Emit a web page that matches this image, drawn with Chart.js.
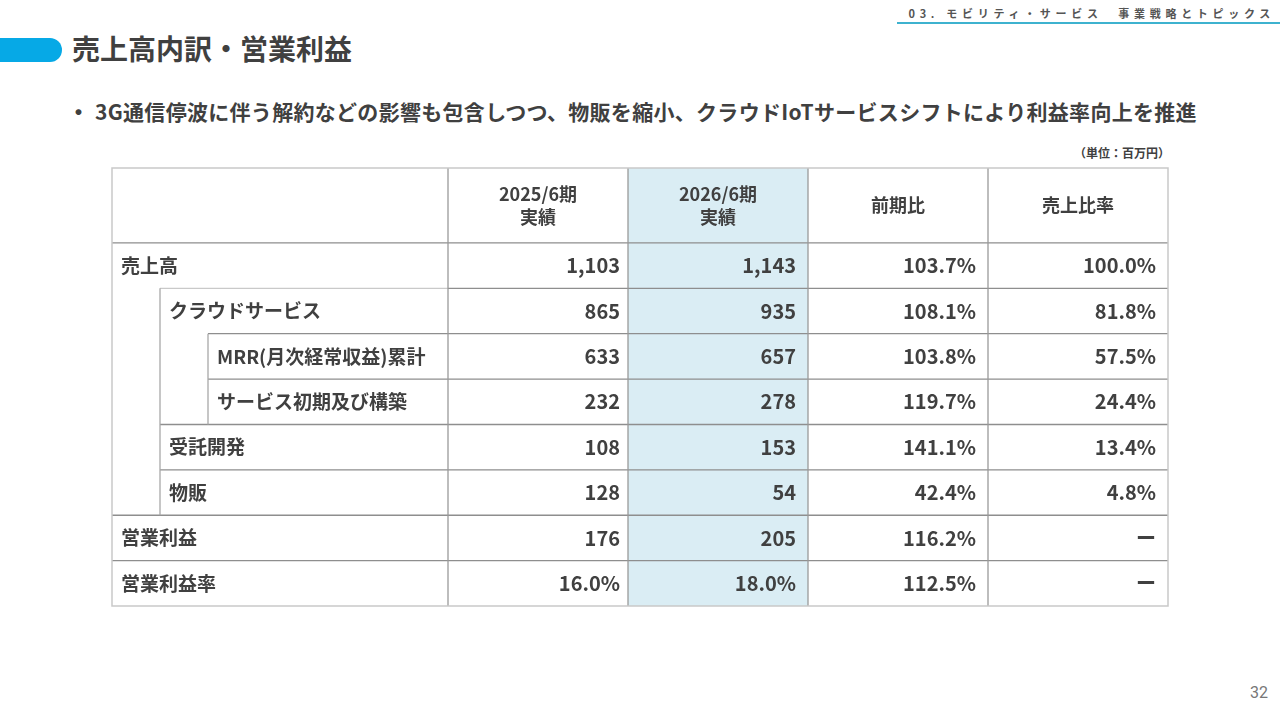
<!DOCTYPE html>
<html lang="ja">
<head>
<meta charset="utf-8">
<title>売上高内訳・営業利益</title>
<script src="https://cdn.jsdelivr.net/npm/chart.js@4"></script>
<style>
  html, body { margin: 0; padding: 0; background: #fff; }
  body { width: 1280px; height: 720px; position: relative; overflow: hidden;
         font-family: 'Noto Sans CJK JP', 'Noto Sans', sans-serif; color: #404040; }
  .section { position: absolute; left: 897px; top: 4px; width: 383px; height: 18px;
             border-bottom: 2px solid #3eb2cf; font-size: 11px; font-weight: bold;
             letter-spacing: 4.7px; color: #555; text-align: right; line-height: 18px; }
  .section span { padding-right: 5px; }
  .bar { position: absolute; left: 0; top: 38px; width: 62px; height: 24px;
         background: #06a9e6; border-radius: 0 12px 12px 0; }
  h1 { position: absolute; left: 72px; top: 30px; margin: 0; font-size: 28px;
       font-weight: bold; line-height: 36px; color: #404040; }
  .lead { position: absolute; left: 68px; top: 96px; margin: 0; font-size: 21px;
          font-weight: bold; line-height: 30px; letter-spacing: 0.3px; white-space: nowrap; }
  .lead b { display: inline-block; width: 27px; }
  .unit { position: absolute; left: 1074px; top: 144px; font-size: 12px; font-weight: bold;
          color: #404040; }
  .page { position: absolute; left: 1250px; top: 683px; font-size: 16px; color: #777;
          font-family: Roboto, 'Noto Sans', sans-serif; }
  #wrap { position: absolute; left: 102px; top: 158px; width: 1076px; height: 458px; }
</style>
</head>
<body>
<div class="section"><span>03. モビリティ・サービス　事業戦略とトピックス</span></div>
<div class="bar"></div>
<h1>売上高内訳・営業利益</h1>
<p class="lead"><b>・</b>3G通信停波に伴う解約などの影響も包含しつつ、物販を縮小、クラウドIoTサービスシフトにより利益率向上を推進</p>
<div class="unit">（単位：百万円）</div>
<div class="page">32</div>
<div id="wrap"><canvas id="tableChart"></canvas></div>

<script>
// 行ラベルと階層
const rowLabels = ['売上高', 'クラウドサービス', 'MRR(月次経常収益)累計', 'サービス初期及び構築',
                   '受託開発', '物販', '営業利益', '営業利益率'];
const rowLevels = [0, 1, 2, 2, 1, 1, 0, 0];
const rowIsRate = [false, false, false, false, false, false, false, true];

// 列見出し
const columnHeaders = [['2025/6期', '実績'], ['2026/6期', '実績'], ['前期比'], ['売上比率']];

// 数値（百万円 / %）
const fy2025 = [1103, 865, 633, 232, 108, 128, 176, 16.0];
const fy2026 = [1143, 935, 657, 278, 153, 54, 205, 18.0];
const yoyRatio = [103.7, 108.1, 103.8, 119.7, 141.1, 42.4, 116.2, 112.5];
const salesShare = [100.0, 81.8, 57.5, 24.4, 13.4, 4.8, null, null];

// レイアウト（セル単位）
const LABEL_COL = 336 / 180;
const INDENT = 48 / 180;
const HEADER_ROW = 75 / 45.4;
const HIGHLIGHT_COL = 1;
const CELL_PAD = [8, 12, 12, 12];

function fmtAmount(v) { return v.toLocaleString('en-US'); }
function fmtPct(v) { return v.toFixed(1) + '%'; }

function cellText(col, row) {
    if (col === 0) return rowIsRate[row] ? fmtPct(fy2025[row]) : fmtAmount(fy2025[row]);
    if (col === 1) return rowIsRate[row] ? fmtPct(fy2026[row]) : fmtAmount(fy2026[row]);
    if (col === 2) return fmtPct(yoyRatio[row]);
    return salesShare[row] === null ? 'ー' : fmtPct(salesShare[row]);
}

const tablePlugin = {
    id: 'tablePlugin',
    afterDraw(chart) {
        const { ctx, scales: { x, y } } = chart;
        const nCols = columnHeaders.length;
        const nRows = rowLabels.length;
        const colLeft = c => x.getPixelForValue(LABEL_COL + c);
        const rowTop = r => y.getPixelForValue(HEADER_ROW + r);
        const left = x.getPixelForValue(0);
        const right = x.getPixelForValue(LABEL_COL + nCols);
        const top = y.getPixelForValue(0);
        const bottom = y.getPixelForValue(HEADER_ROW + nRows);

        ctx.save();
        // 強調列
        ctx.fillStyle = '#daedf4';
        ctx.fillRect(colLeft(HIGHLIGHT_COL), top, colLeft(HIGHLIGHT_COL + 1) - colLeft(HIGHLIGHT_COL), bottom - top);

        function line(x1, y1, x2, y2, color, w) {
            ctx.beginPath();
            ctx.strokeStyle = color;
            ctx.lineWidth = w;
            ctx.moveTo(x1, y1);
            ctx.lineTo(x2, y2);
            ctx.stroke();
        }
        const dark = '#8e8e8e';
        const light = '#c9c9c9';

        // 横線
        line(left, rowTop(0), right, rowTop(0), dark, 1.3);
        for (let r = 1; r < nRows; r++) {
            const xs = x.getPixelForValue(INDENT * rowLevels[r]);
            if (rowLevels[r - 1] === 0 && rowLevels[r] > 0) {
                line(xs, rowTop(r), colLeft(0), rowTop(r), light, 1.3);
                line(colLeft(0), rowTop(r), right, rowTop(r), dark, 1.3);
            } else {
                line(xs, rowTop(r), right, rowTop(r), dark, 1.3);
            }
        }

        // 縦線（階層）
        for (let lvl = 1; lvl <= 2; lvl++) {
            let start = null;
            for (let r = 0; r <= nRows; r++) {
                const inside = r < nRows && rowLevels[r] >= lvl;
                if (inside && start === null) start = r;
                if (!inside && start !== null) {
                    const xp = x.getPixelForValue(INDENT * lvl);
                    line(xp, rowTop(start), xp, rowTop(r), '#a8a8a8', 1.3);
                    start = null;
                }
            }
        }
        // 縦線（列）
        for (let c = 0; c < nCols; c++) {
            line(colLeft(c), top, colLeft(c), bottom, '#9a9a9a', 1.3);
        }
        // 外枠
        ctx.strokeStyle = light;
        ctx.lineWidth = 1.5;
        ctx.strokeRect(left, top, right - left, bottom - top);

        // 見出し
        ctx.fillStyle = '#404040';
        ctx.textAlign = 'center';
        ctx.textBaseline = 'middle';
        ctx.font = "bold 18px 'Noto Sans CJK JP'";
        const hMid = (top + rowTop(0)) / 2;
        columnHeaders.forEach((lines, c) => {
            const cx = (colLeft(c) + colLeft(c + 1)) / 2;
            const gap = 23;
            lines.forEach((t, i) => {
                ctx.fillText(t, cx, hMid + (i - (lines.length - 1) / 2) * gap);
            });
        });

        // 行ラベル
        ctx.textAlign = 'left';
        ctx.font = "bold 19px 'Noto Sans CJK JP'";
        rowLabels.forEach((t, r) => {
            const cy = (rowTop(r) + rowTop(r + 1)) / 2;
            ctx.fillText(t, x.getPixelForValue(INDENT * rowLevels[r]) + 9, cy);
        });

        // 数値
        ctx.textAlign = 'right';
        ctx.font = "bold 20px 'Noto Sans CJK JP'";
        for (let r = 0; r < nRows; r++) {
            const cy = (rowTop(r) + rowTop(r + 1)) / 2;
            for (let c = 0; c < nCols; c++) {
                ctx.fillText(cellText(c, r), colLeft(c + 1) - CELL_PAD[c], cy);
            }
        }
        ctx.restore();
    }
};

function drawTable() {
    const ctx = document.getElementById('tableChart').getContext('2d');
    new Chart(ctx, {
        type: 'scatter',
        data: { datasets: [{ data: [] }] },
        options: {
            responsive: true,
            maintainAspectRatio: false,
            animation: false,
            layout: { padding: 10 },
            plugins: { legend: { display: false }, tooltip: { enabled: false } },
            scales: {
                x: { type: 'linear', display: false, min: 0, max: LABEL_COL + columnHeaders.length },
                y: { type: 'linear', display: false, reverse: true, min: 0, max: HEADER_ROW + rowLabels.length }
            }
        },
        plugins: [tablePlugin]
    });
}

document.fonts.load("bold 20px 'Noto Sans CJK JP'").then(drawTable, drawTable);
</script>
</body>
</html>
